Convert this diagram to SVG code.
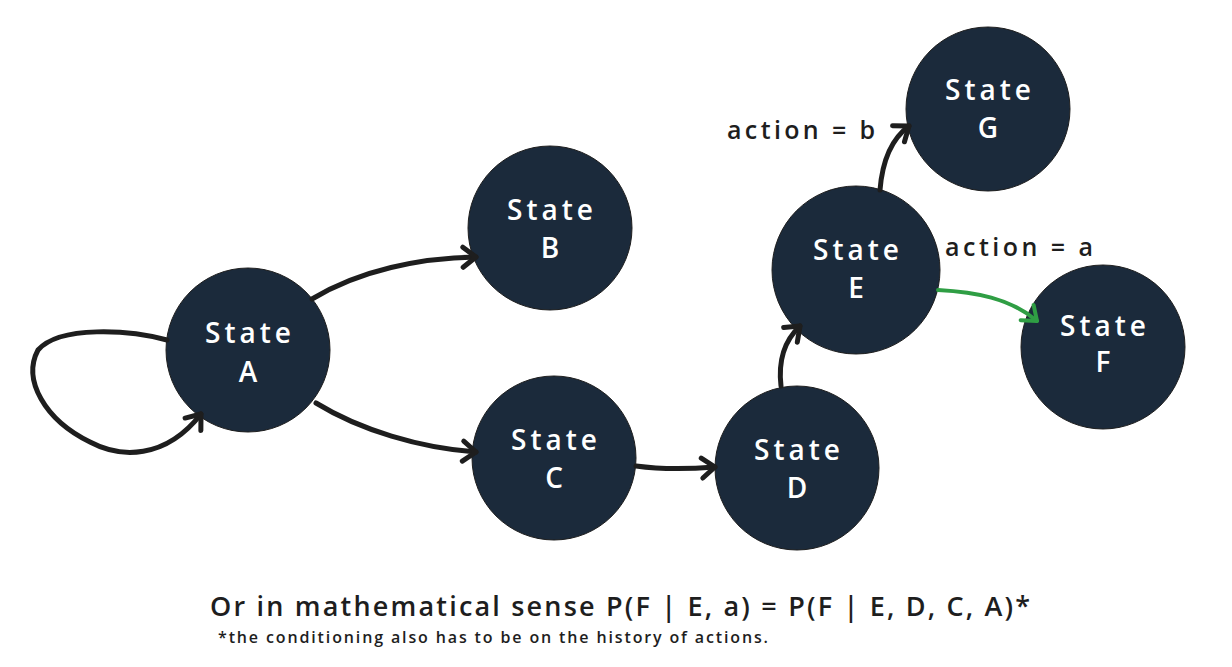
<svg xmlns="http://www.w3.org/2000/svg" width="1232" height="667" viewBox="0 0 1232 667">
<style>
.node{fill:#1b2a3b;stroke:#1e1e1e;stroke-width:1}
.nt{fill:#ffffff;font-family:"Open Sans","Lato","Liberation Sans",sans-serif;font-size:28px;font-weight:600;text-anchor:middle}
.edge{fill:none;stroke:#1e1e1e;stroke-width:5;stroke-linecap:round;stroke-linejoin:round}
.green{stroke:#2f9e44;stroke-width:4}
.lbl{fill:#1e1e1e;font-family:"Open Sans","Lato","Liberation Sans",sans-serif;font-size:25px;font-weight:600}
</style>
<defs>
<marker id="ah" markerWidth="30" markerHeight="30" refX="0" refY="0" orient="auto" markerUnits="userSpaceOnUse" overflow="visible">
<path d="M-13,-10 L0,0 L-13,10" fill="none" stroke="#1e1e1e" stroke-width="5" stroke-linecap="round" stroke-linejoin="round"/>
</marker>
<marker id="ahg" markerWidth="30" markerHeight="30" refX="0" refY="0" orient="auto" markerUnits="userSpaceOnUse" overflow="visible">
<path d="M-13,-10 L0,0 L-13,10" fill="none" stroke="#2f9e44" stroke-width="4" stroke-linecap="round" stroke-linejoin="round"/>
</marker>
</defs>
<rect width="1232" height="667" fill="#ffffff"/>
<g id="node-A"><circle class="node" cx="248" cy="350" r="82"/><text class="nt" x="248" y="343" textLength="86">State</text><text class="nt" x="248" y="382">A</text></g>
<g id="node-B"><circle class="node" cx="550" cy="228" r="82"/><text class="nt" x="550" y="220" textLength="86">State</text><text class="nt" x="550" y="258">B</text></g>
<g id="node-C"><circle class="node" cx="554" cy="458" r="82"/><text class="nt" x="554" y="450" textLength="86">State</text><text class="nt" x="554" y="488">C</text></g>
<g id="node-D"><circle class="node" cx="797" cy="468" r="82"/><text class="nt" x="797" y="460" textLength="86">State</text><text class="nt" x="797" y="498">D</text></g>
<g id="node-E"><circle class="node" cx="856" cy="270" r="84"/><text class="nt" x="856" y="260" textLength="86">State</text><text class="nt" x="856" y="298">E</text></g>
<g id="node-F"><circle class="node" cx="1103" cy="347" r="82"/><text class="nt" x="1103" y="336" textLength="86">State</text><text class="nt" x="1103" y="372">F</text></g>
<g id="node-G"><circle class="node" cx="988" cy="109" r="82"/><text class="nt" x="988" y="100" textLength="86">State</text><text class="nt" x="988" y="138">G</text></g>
<g id="connectors">
<path class="edge" d="M167,340 C130,330 60,325 38,350 C22,380 45,420 90,442 C120,458 165,460 201,414" marker-end="url(#ah)"/>
<path class="edge" d="M312,299 C360,270 420,258 476,257" marker-end="url(#ah)"/>
<path class="edge" d="M316,403 C360,430 420,448 476,452" marker-end="url(#ah)"/>
<path class="edge" d="M636,466 C665,470 690,469 715,467" marker-end="url(#ah)"/>
<path class="edge" d="M781,386 C778,360 785,340 800,326" marker-end="url(#ah)"/>
<path class="edge" d="M880,190 C882,165 890,140 909,126" marker-end="url(#ah)"/>
<path class="edge green" d="M938,290 C975,292 1010,298 1037,321" marker-end="url(#ahg)"/>
</g>
<g id="labels">
<text class="lbl" x="727" y="139" textLength="148">action = b</text>
<text class="lbl" x="945" y="256" textLength="148">action = a</text>
<text class="lbl" x="210" y="616" textLength="820" style="font-size:27px">Or in mathematical sense P(F | E, a) = P(F | E, D, C, A)*</text>
<text class="lbl" x="218" y="643" textLength="550" style="font-size:16px">*the conditioning also has to be on the history of actions.</text>
</g>
</svg>
